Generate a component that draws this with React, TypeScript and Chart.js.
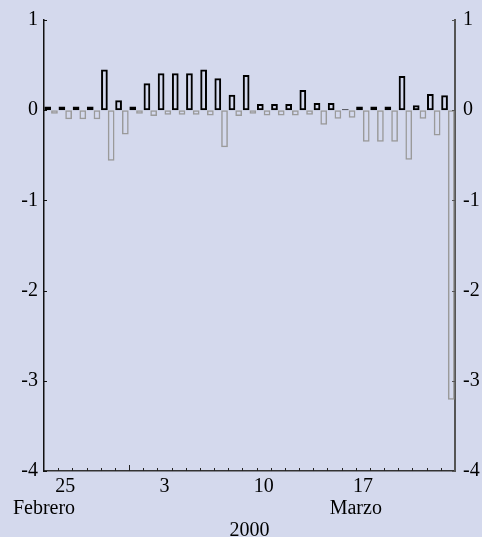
import React, { useEffect, useRef } from 'react';
import { Chart, registerables } from 'chart.js';

Chart.register(...registerables);

const days = ['24', '25', '26', '27', '28', '29', '1', '2', '3', '4', '5', '6', '7', '8', '9', '10', '11', '12', '13', '14', '15', '16', '17', '18', '19', '20', '21', '22', '23'];
const shownDayLabels = ['25', '3', '10', '17'];
const positiveValues = [0.04, 0.04, 0.04, 0.04, 0.45, 0.11, 0.04, 0.30, 0.41, 0.41, 0.41, 0.45, 0.355, 0.17, 0.39, 0.07, 0.07, 0.07, 0.225, 0.08, 0.08, 0.01, 0.04, 0.04, 0.04, 0.38, 0.055, 0.18, 0.165];
const negativeValues = [-0.04, -0.10, -0.10, -0.10, -0.56, -0.27, -0.04, -0.065, -0.05, -0.05, -0.05, -0.06, -0.41, -0.065, -0.04, -0.06, -0.06, -0.06, -0.05, -0.16, -0.095, -0.085, -0.35, -0.35, -0.35, -0.55, -0.095, -0.28, -3.21];
const monthLabels = ['Febrero', 'Marzo'];
const monthStartIndex = [0, 22];
const yearLabel = '2000';
const monthBoundaryDay = '1';

const FONT_FAMILY = '"Liberation Serif", "Times New Roman", serif';
const BG = '#d4d9ed';

const axisDecor = {
  id: 'axisDecor',
  afterDraw(chart: any) {
    const { ctx, chartArea, scales } = chart;
    const x = scales.x;
    const y = scales.y;
    const step = x.getPixelForValue(1) - x.getPixelForValue(0);
    ctx.save();
    ctx.lineWidth = 1;
    ctx.strokeStyle = '#222';
    for (let i = 1; i < days.length; i++) {
      const px = Math.round(x.getPixelForValue(i) - step / 2) + 0.5;
      const len = days[i] === monthBoundaryDay ? 6 : 3;
      ctx.beginPath();
      ctx.moveTo(px, chartArea.bottom);
      ctx.lineTo(px, chartArea.bottom - len);
      ctx.stroke();
    }
    for (const t of y.ticks) {
      const py = Math.round(y.getPixelForValue(t.value)) + 0.5;
      ctx.strokeStyle = '#111';
      ctx.beginPath();
      ctx.moveTo(chartArea.left, py);
      ctx.lineTo(chartArea.left + 3, py);
      ctx.stroke();
      ctx.strokeStyle = '#555';
      ctx.beginPath();
      ctx.moveTo(chartArea.right, py);
      ctx.lineTo(chartArea.right - 3, py);
      ctx.stroke();
    }
    ctx.fillStyle = '#000';
    ctx.font = `20px ${FONT_FAMILY}`;
    ctx.textAlign = 'center';
    ctx.textBaseline = 'alphabetic';
    monthLabels.forEach((m, k) => {
      const px = x.getPixelForValue(monthStartIndex[k]) - step / 2;
      ctx.fillText(m, px, chartArea.bottom + 43);
    });
    ctx.restore();
  },
};

export default function App() {
  const canvasRef = useRef<HTMLCanvasElement | null>(null);

  useEffect(() => {
    document.body.style.margin = '0';
    const canvas = canvasRef.current;
    if (!canvas) return;
    const font = { family: FONT_FAMILY, size: 20 };
    const chart = new Chart(canvas, {
      type: 'bar',
      data: {
        labels: days,
        datasets: [
          {
            data: positiveValues,
            backgroundColor: 'rgba(0,0,0,0)',
            borderColor: '#000',
            borderWidth: 2,
            borderSkipped: false,
            categoryPercentage: 0.95,
            barPercentage: 1,
          },
          {
            data: negativeValues,
            backgroundColor: 'rgba(0,0,0,0)',
            borderColor: '#9a9a9a',
            borderWidth: 1.5,
            borderSkipped: false,
            categoryPercentage: 0.95,
            barPercentage: 1,
          },
        ],
      },
      options: {
        animation: false,
        responsive: false,
        layout: { padding: { top: 20, left: 0, right: 0, bottom: 0 } },
        plugins: { legend: { display: false }, tooltip: { enabled: false } },
        scales: {
          x: {
            type: 'category',
            offset: true,
            grid: { display: false, drawTicks: false },
            border: { display: true, color: '#333', width: 1.5 },
            ticks: {
              autoSkip: false,
              maxRotation: 0,
              padding: 4,
              color: '#000',
              font,
              callback: (_v: any, i: number) => (shownDayLabels.includes(days[i]) ? days[i] : ''),
            },
            title: {
              display: true,
              text: yearLabel,
              color: '#000',
              font: { family: FONT_FAMILY, size: 20, lineHeight: 1 },
              padding: { top: 0, bottom: -4 },
            },
            afterFit: (s: any) => {
              s.height = 66;
            },
          },
          y: {
            position: 'left',
            min: -4,
            max: 1,
            ticks: { stepSize: 1, padding: 6, color: '#000', font },
            grid: { display: false, drawTicks: false },
            border: { display: true, color: '#111', width: 1.5 },
            afterFit: (s: any) => {
              s.width = 44;
            },
          },
          y2: {
            position: 'right',
            min: -4,
            max: 1,
            ticks: { stepSize: 1, padding: 8, color: '#000', font },
            grid: { display: false, drawTicks: false },
            border: { display: true, color: '#555', width: 2 },
            afterFit: (s: any) => {
              s.width = 27;
            },
          },
        },
      },
      plugins: [axisDecor],
    });
    return () => chart.destroy();
  }, []);

  return (
    <div style={{ width: 482, height: 537, background: BG, overflow: 'hidden' }}>
      <canvas ref={canvasRef} width={482} height={537} style={{ display: 'block' }} />
    </div>
  );
}
